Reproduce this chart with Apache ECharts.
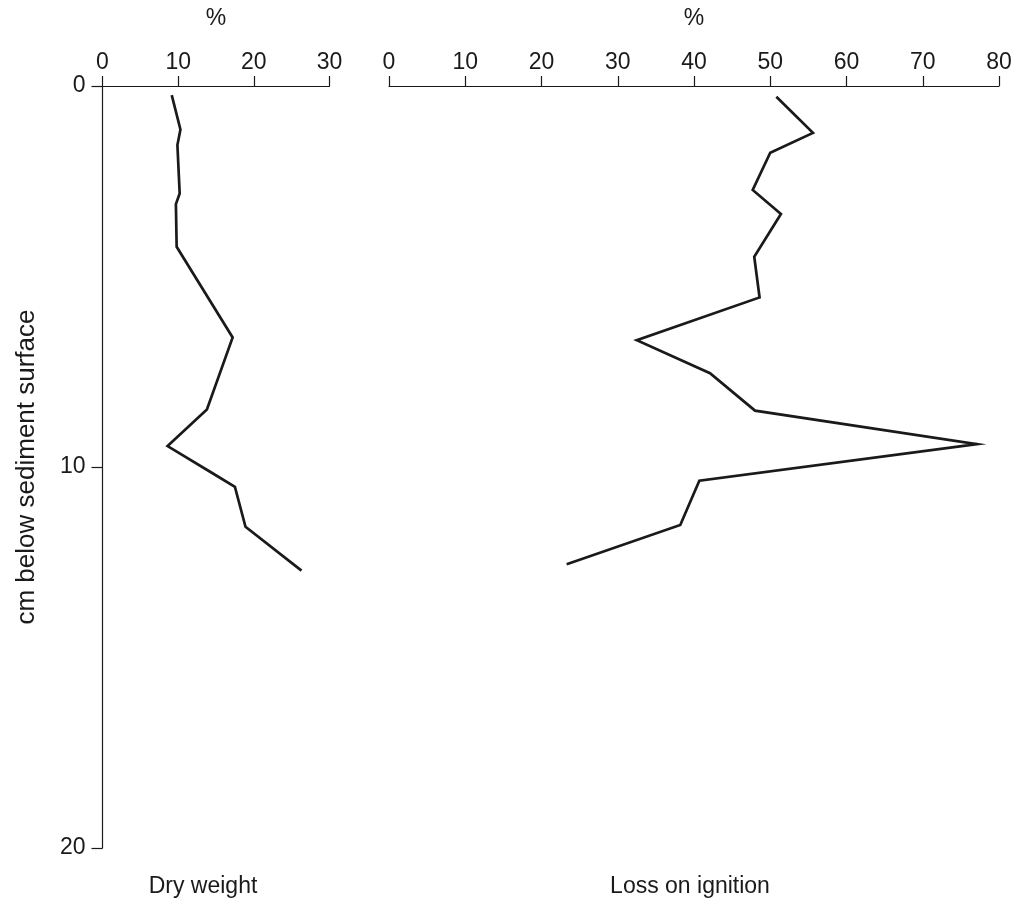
<!DOCTYPE html>
<html>
<head>
<meta charset="utf-8">
<script src="https://cdn.jsdelivr.net/npm/echarts@6/dist/echarts.min.js"></script>
<style>
  html, body { margin: 0; padding: 0; background: #fff; }
  #chart { width: 1020px; height: 919px; }
</style>
</head>
<body>
<div id="chart"></div>
<script>
// Sediment core profiles: depth (cm below sediment surface) vs. percentage
const dryDepth  = [0.24, 1.14, 1.55, 2.82, 3.10, 4.22, 6.60, 8.49, 9.45, 10.17, 10.52, 11.57, 12.72];
const dryWeight = [9.15, 10.3, 9.9, 10.2, 9.7, 9.8, 17.2, 13.8, 8.6, 14.6, 17.5, 18.9, 26.3];

const lossDepth = [0.28, 1.23, 1.75, 2.73, 3.36, 4.48, 5.55, 6.67, 7.54, 8.52, 9.40, 10.36, 11.52, 12.55];
const lossOnIgnition = [50.8, 55.6, 50.0, 47.7, 51.4, 47.9, 48.6, 32.5, 42.1, 48.0, 77.1, 40.7, 38.2, 23.3];

const depthTicks = [0, 10, 20];
const dryTicks = [0, 10, 20, 30];
const lossTicks = [0, 10, 20, 30, 40, 50, 60, 70, 80];

const FONT = "'Liberation Sans', Arial, Helvetica, sans-serif";
const INK = '#1a1a1a';

const pairs = (ys, xs) => xs.map((x, i) => [x, ys[i]]);

const chart = echarts.init(document.getElementById('chart'), null, { renderer: 'canvas' });

const xAxisCommon = {
  type: 'value',
  position: 'top',
  min: 0,
  interval: 10,
  splitLine: { show: false },
  axisLine: { show: true, lineStyle: { color: INK, width: 1.2 } },
  axisTick: { show: true, inside: false, length: 10, lineStyle: { color: INK, width: 1.2 } },
  axisLabel: { color: INK, fontFamily: FONT, fontSize: 23, margin: 12 },
  name: '%',
  nameLocation: 'middle',
  nameGap: 56,
  nameTextStyle: { color: INK, fontFamily: FONT, fontSize: 23 }
};

const option = {
  backgroundColor: '#fff',
  animation: false,
  grid: [
    { left: 102.5, top: 86, width: 227, height: 762 },
    { left: 389, top: 86, width: 610, height: 762 }
  ],
  xAxis: [
    Object.assign({}, xAxisCommon, { gridIndex: 0, max: dryTicks[dryTicks.length - 1] }),
    Object.assign({}, xAxisCommon, { gridIndex: 1, max: lossTicks[lossTicks.length - 1] })
  ],
  yAxis: [
    {
      type: 'value', gridIndex: 0, inverse: true,
      min: depthTicks[0], max: depthTicks[depthTicks.length - 1], interval: 10,
      splitLine: { show: false },
      axisLine: { show: true, lineStyle: { color: INK, width: 1.2 } },
      axisTick: { show: true, inside: false, length: 11, lineStyle: { color: INK, width: 1.2 } },
      axisLabel: { color: INK, fontFamily: FONT, fontSize: 23, margin: 17 },
      name: 'cm below sediment surface',
      nameLocation: 'middle',
      nameGap: 63,
      nameTextStyle: { color: INK, fontFamily: FONT, fontSize: 26 }
    },
    {
      type: 'value', gridIndex: 1, inverse: true,
      min: depthTicks[0], max: depthTicks[depthTicks.length - 1], interval: 10,
      show: false
    }
  ],
  series: [
    {
      type: 'line', xAxisIndex: 0, yAxisIndex: 0,
      data: pairs(dryDepth, dryWeight),
      showSymbol: false, symbol: 'none',
      lineStyle: { color: INK, width: 2.7, join: 'miter' }
    },
    {
      type: 'line', xAxisIndex: 1, yAxisIndex: 1,
      data: pairs(lossDepth, lossOnIgnition),
      showSymbol: false, symbol: 'none',
      lineStyle: { color: INK, width: 2.7, join: 'miter' }
    }
  ],
  graphic: [
    {
      type: 'text', x: 203, y: 887,
      style: { text: 'Dry weight', fill: INK, font: '23px ' + FONT, textAlign: 'center', textVerticalAlign: 'middle' }
    },
    {
      type: 'text', x: 690, y: 887,
      style: { text: 'Loss on ignition', fill: INK, font: '23px ' + FONT, textAlign: 'center', textVerticalAlign: 'middle' }
    }
  ]
};

chart.setOption(option);
</script>
</body>
</html>
